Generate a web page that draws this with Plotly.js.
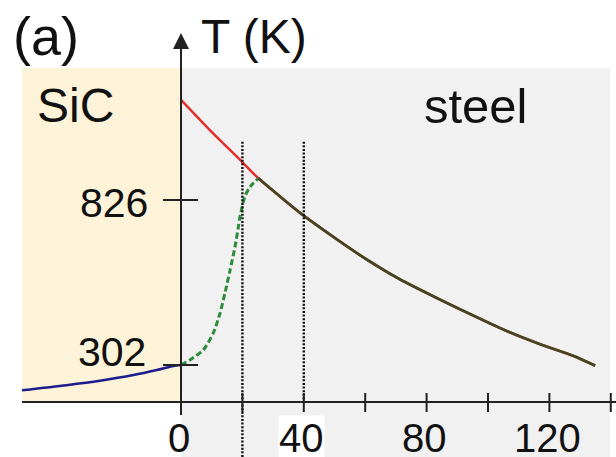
<!DOCTYPE html>
<html>
<head>
<meta charset="utf-8">
<script src="https://cdn.plot.ly/plotly-3.0.1.min.js"></script>
<style>html,body{margin:0;padding:0;background:#fff;}#chart{width:616px;height:457px;}</style>
</head>
<body>
<div id="chart"></div>
<script>
// ---- data ----
const blueX = [-51.8, -37.3, -26.4, -15.5, -7.9, -2.5, 0];
const blueT = [222, 238, 252, 270, 286, 299, 302];

const redX = [0, 9.4, 19.8, 25.2, 38.8, 49.6, 60.5, 71.3, 82.2, 90.9, 106.1, 117, 127.8, 134.9];
const redT = [1144, 1048, 948, 895, 785, 709, 637, 574, 520, 479, 410, 368, 331, 300];

const greenX = [0, 2.9, 7.3, 10.5, 12.7, 14.3, 16, 17.6, 18.7, 19.2, 20.8, 22.5, 25.2];
const greenT = [302, 318, 350, 403, 466, 530, 604, 678, 741, 773, 837, 868, 895];

const xTickVals = [0, 20, 40, 60, 80, 100, 120, 140];
const xLabelVals = [0, 40, 80, 120];
const yTickVals = [826, 302];
const markX = [20, 40];
const mergeX = 25.2;

// ---- layout constants ----
const X0 = -51.8, X1 = 141.7;
const Y0 = 9.8, Y1 = 1356.4;
const AXIS_T = 184.5;
const TOP_T = 1245;
const MARK_TOP = 1011;
const FONT = 'Liberation Sans, Arial, sans-serif';
const INK = '#222';

const overlapX = redX.filter(v => v >= mergeX);
const overlapT = redT.filter((v, i) => redX[i] >= mergeX);

const traces = [
  {x: blueX, y: blueT, mode: 'lines', line: {color: '#1c1c8e', width: 2.5, shape: 'spline', smoothing: 0.8}, hoverinfo: 'skip'},
  {x: redX, y: redT, mode: 'lines', line: {color: '#e0302e', width: 2.5, shape: 'spline', smoothing: 0.6}, hoverinfo: 'skip'},
  {x: greenX, y: greenT, mode: 'lines', line: {color: '#2e8b3a', width: 3, dash: '6px,3px', shape: 'spline', smoothing: 0.6}, hoverinfo: 'skip'},
  {x: overlapX, y: overlapT, mode: 'lines', line: {color: '#454522', width: 2.8, shape: 'spline', smoothing: 0.6}, hoverinfo: 'skip'}
];

const shapes = [
  {type: 'rect', layer: 'below', xref: 'x', yref: 'y', x0: X0, x1: 0, y0: AXIS_T, y1: TOP_T, fillcolor: '#fdf3d8', line: {width: 0}},
  {type: 'rect', layer: 'below', xref: 'x', yref: 'y', x0: 0, x1: 139.8, y0: Y0, y1: TOP_T, fillcolor: '#f1f1f1', line: {width: 0}},
  // x axis line
  {type: 'line', xref: 'x', yref: 'y', x0: X0, x1: X1, y0: AXIS_T, y1: AXIS_T, line: {color: INK, width: 2}},
  // dotted marker lines
  {type: 'line', xref: 'x', yref: 'y', x0: markX[0], x1: markX[0], y0: MARK_TOP, y1: Y0, line: {color: '#111', width: 2.4, dash: '2px,1.6px'}},
  {type: 'line', xref: 'x', yref: 'y', x0: markX[1], x1: markX[1], y0: MARK_TOP, y1: AXIS_T, line: {color: '#111', width: 2.4, dash: '2px,1.6px'}}
];
xTickVals.forEach(v => shapes.push({
  type: 'line', xref: 'x', yref: 'y', ysizemode: 'pixel', yanchor: AXIS_T,
  x0: v, x1: v, y0: v === 0 ? -13 : -10, y1: 9, line: {color: INK, width: 2}
}));
yTickVals.forEach(v => shapes.push({
  type: 'line', xref: 'x', yref: 'y', xsizemode: 'pixel', xanchor: 0,
  x0: -18, x1: 17, y0: v, y1: v, line: {color: INK, width: 2}
}));

const annotations = [
  // y axis with arrow
  {x: 0, y: Y1, xref: 'x', yref: 'y', ax: 0, ay: AXIS_T, axref: 'x', ayref: 'y', text: '', showarrow: true,
   arrowhead: 2, arrowsize: 1.6, arrowwidth: 2, arrowcolor: INK},
  {xref: 'paper', yref: 'paper', x: -0.0185, y: 0.992, xanchor: 'left', yanchor: 'middle', text: '(a)', showarrow: false, font: {family: FONT, size: 54, color: '#111'}},
  {xref: 'paper', yref: 'paper', x: 0.298, y: 0.992, xanchor: 'left', yanchor: 'middle', text: 'T (K)', showarrow: false, font: {family: FONT, size: 48, color: '#111'}},
  {xref: 'paper', yref: 'paper', x: 0.0212, y: 0.829, xanchor: 'left', yanchor: 'middle', text: 'SiC', showarrow: false, font: {family: FONT, size: 48, color: '#111'}},
  {xref: 'paper', yref: 'paper', x: 0.6726, y: 0.828, xanchor: 'left', yanchor: 'middle', text: 'steel', showarrow: false, font: {family: FONT, size: 49, color: '#111'}}
];
xLabelVals.forEach(v => annotations.push({
  x: v, y: AXIS_T, xref: 'x', yref: 'y', xanchor: 'center', yanchor: 'middle', xshift: -2, yshift: -36,
  text: String(v), showarrow: false, font: {family: FONT, size: 40, color: '#111'},
  bgcolor: v === 40 ? '#ffffff' : 'rgba(0,0,0,0)', borderpad: 0
}));
const yLabelShift = {826: [-31, -3], 302: [-33, 13]};
yTickVals.forEach(v => annotations.push({
  x: 0, y: v, xref: 'x', yref: 'y', xanchor: 'right', yanchor: 'middle',
  xshift: yLabelShift[v][0], yshift: yLabelShift[v][1],
  text: String(v), showarrow: false, font: {family: FONT, size: 41, color: '#111'}
}));

const layout = {
  width: 616, height: 457,
  margin: {l: 22, r: 0, t: 33, b: 0},
  paper_bgcolor: '#ffffff', plot_bgcolor: '#ffffff',
  showlegend: false,
  xaxis: {range: [X0, X1], visible: false, fixedrange: true},
  yaxis: {range: [Y0, Y1], visible: false, fixedrange: true},
  shapes: shapes,
  annotations: annotations
};

Plotly.newPlot('chart', traces, layout, {staticPlot: true, displayModeBar: false});
</script>
</body>
</html>
